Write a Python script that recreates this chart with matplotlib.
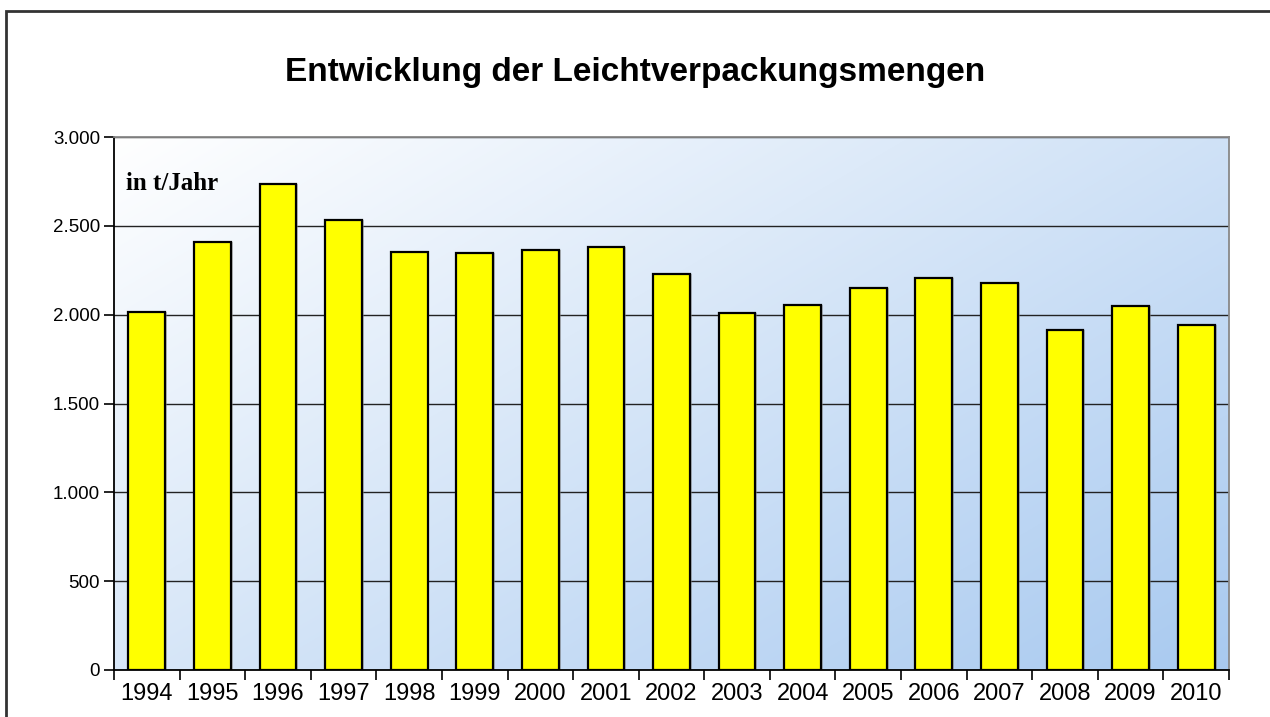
import numpy as np
import matplotlib

matplotlib.use("Agg")
import matplotlib.pyplot as plt
from matplotlib.patches import Rectangle

# Leichtverpackungsmengen in t/Jahr
years = [str(y) for y in range(1994, 2011)]
mengen = [2017, 2410, 2737, 2534, 2355, 2345, 2364, 2383, 2230,
          2009, 2056, 2151, 2207, 2179, 1912, 2046, 1942]
y_ticks = [0, 500, 1000, 1500, 2000, 2500, 3000]
y_labels = ["0", "500", "1.000", "1.500", "2.000", "2.500", "3.000"]

plt.rcParams["font.family"] = ["Liberation Sans", "DejaVu Sans"]

fig = plt.figure(figsize=(12.7, 7.17), dpi=100)
ax = fig.add_axes([114 / 1270, 47 / 717, 1115 / 1270, 533 / 717])

# Rahmen um das Diagramm (oben und links sichtbar)
fig.patches.append(Rectangle((6 / 1270, -0.1), 1.2, 1.1 - 11 / 717,
                             transform=fig.transFigure, fill=False,
                             edgecolor="#333333", linewidth=2))

# diagonaler Farbverlauf im Hintergrund (oben links hell, unten rechts blau)
n = 256
gx, gy = np.meshgrid(np.linspace(0, 1, n), np.linspace(0, 1, n))
t = gx * 0.55 + gy * 0.45
top = np.array([1.0, 1.0, 1.0])
bot = np.array([0.66, 0.79, 0.94])
img = top[None, None, :] * (1 - t[..., None]) + bot[None, None, :] * t[..., None]
x = np.arange(len(years))
ax.imshow(img, extent=(-0.5, len(years) - 0.5, 0, 3000), aspect="auto",
          origin="upper", zorder=0, interpolation="bilinear")

ax.set_axisbelow(True)
ax.yaxis.grid(True, color="#222222", linewidth=1.0, zorder=1)

ax.bar(x + 0.03, mengen, width=0.56, color="#888888", alpha=0.5,
       edgecolor="none", zorder=2)
ax.bar(x, mengen, width=0.56, color="#ffff00", edgecolor="black",
       linewidth=1.6, zorder=3)

ax.set_xlim(-0.5, len(years) - 0.5)
ax.set_ylim(0, 3000)
ax.set_yticks(y_ticks)
ax.set_yticklabels(y_labels, fontsize=13.5)
ax.set_xticks(np.arange(len(years) + 1) - 0.5)
ax.set_xticklabels([])
ax.set_xticks(x, minor=True)
ax.set_xticklabels(years, minor=True, fontsize=17)
ax.tick_params(axis="x", which="minor", length=0, pad=9)
ax.tick_params(axis="x", which="major", length=7, width=1.2, direction="out")
ax.tick_params(axis="y", length=7, width=1.2, direction="out", pad=3)

for side in ("left", "bottom"):
    ax.spines[side].set_color("black")
    ax.spines[side].set_linewidth(1.3)
for side in ("top", "right"):
    ax.spines[side].set_color("#888888")
    ax.spines[side].set_linewidth(1.3)

ax.text(0.011, 0.912, "in t/Jahr", transform=ax.transAxes,
        family=["Liberation Serif", "DejaVu Serif"], fontweight="bold",
        fontsize=18, va="center", ha="left", zorder=5)

fig.text(0.5, 1 - 72 / 717, "Entwicklung der Leichtverpackungsmengen",
         ha="center", va="center", fontsize=24, fontweight="bold")

fig.savefig("out.png", dpi=100)
